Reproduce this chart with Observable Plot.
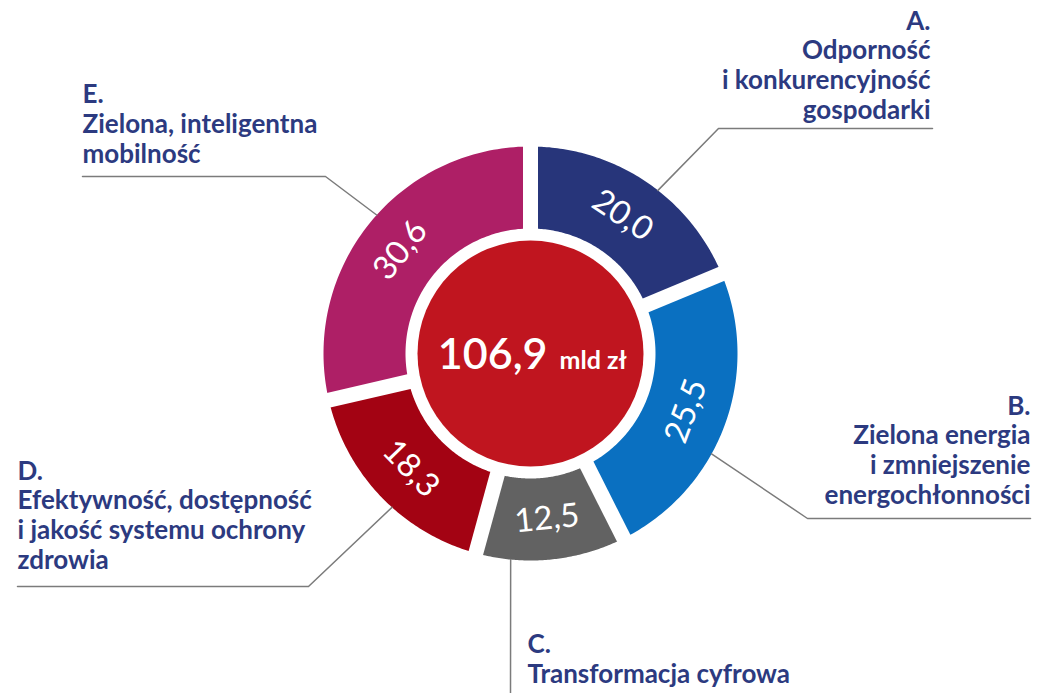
<!DOCTYPE html>
<html>
<head>
<meta charset="utf-8">
<script src="https://cdn.jsdelivr.net/npm/d3@7"></script>
<script src="https://cdn.jsdelivr.net/npm/@observablehq/plot@0.6"></script>
<style>
  body { margin: 0; background: #ffffff; }
  #chart svg { display: block; }
</style>
</head>
<body>
<div id="chart"></div>
<script>
// ---------------- DATA ----------------
const categories = ["A", "B", "C", "D", "E"];
const values = [20.0, 25.5, 12.5, 18.3, 30.6];
const valueLabels = ["20,0", "25,5", "12,5", "18,3", "30,6"];
const titles = [
  "A.\nOdporność\ni konkurencyjność\ngospodarki",
  "B.\nZielona energia\ni zmniejszenie\nenergochłonności",
  "C.\nTransformacja cyfrowa",
  "D.\nEfektywność, dostępność\ni jakość systemu ochrony\nzdrowia",
  "E.\nZielona, inteligentna\nmobilność"
];
const totalLabel = "106,9";
const unitLabel = "mld zł";
const sliceColors = ["#27357A", "#0A70C1", "#626262", "#A30313", "#AE1F66"];

// ---------------- LAYOUT (not data) ----------------
const W = 1038, H = 693;
const CX = 530, CY = 353;             // donut centre in page pixels
const R_OUT = 207, R_IN = 125, R_CENTER = 113, R_LABEL = 166, GAP = 15;
const textColor = "#2C3A80";
const lineColor = "#7B7B7B";
const FONT = "Lato, 'Open Sans', sans-serif";
const leaderLayout = {
  A: {startDeg: 38,    elbow: [188, -225], end: [402, -225], text: [400, -235], anchor: "end"},
  B: {startDeg: 119,   elbow: [277, 165],  end: [500, 165],  text: [500, 150],  anchor: "end"},
  C: {startDeg: 185.5, elbow: null,        end: [-20, 345],  text: [-3, 329],   anchor: "start"},
  D: {startDeg: 222,   elbow: [-222, 233], end: [-513, 233], text: [-513, 215], anchor: "start"},
  E: {startDeg: 312,   elbow: [-205, -177],end: [-448, -177],text: [-448, -191],anchor: "start"}
};

// ---------------- DERIVED ----------------
const arcs = d3.pie().sort(null).value(d => d)(values);
const polar = (r, a) => [r * Math.sin(a), -r * Math.cos(a)];
const slices = categories.map((k, i) => {
  const a0 = arcs[i].startAngle, a1 = arcs[i].endAngle, mid = (a0 + a1) / 2;
  let rot = mid * 180 / Math.PI;
  if (rot > 90 && rot < 270) rot -= 180;
  else if (rot >= 270) rot -= 360;
  const [lx, ly] = polar(R_LABEL, mid);
  return {key: k, a0, a1, mid, rot, lx, ly, label: valueLabels[i], title: titles[i]};
});

const ringPoints = slices.flatMap(s => {
  const n = 90, pts = [];
  for (let j = 0; j <= n; j++) {
    const [x, y] = polar(R_OUT, s.a0 + (s.a1 - s.a0) * j / n);
    pts.push({key: s.key, x, y});
  }
  for (let j = n; j >= 0; j--) {
    const [x, y] = polar(R_IN, s.a0 + (s.a1 - s.a0) * j / n);
    pts.push({key: s.key, x, y});
  }
  return pts;
});

const gapLinks = slices.map(s => {
  const [x1, y1] = polar(R_IN - 8, s.a0);
  const [x2, y2] = polar(R_OUT + 8, s.a0);
  return {x1, y1, x2, y2};
});

const leaderPoints = slices.flatMap(s => {
  const L = leaderLayout[s.key];
  const [sx, sy] = polar(R_OUT, L.startDeg * Math.PI / 180);
  const pts = [{key: s.key, x: sx, y: sy}];
  if (L.elbow) pts.push({key: s.key, x: L.elbow[0], y: L.elbow[1]});
  pts.push({key: s.key, x: L.end[0], y: L.end[1]});
  return pts;
});

const titleRows = slices.map(s => ({
  key: s.key, title: s.title,
  x: leaderLayout[s.key].text[0], y: leaderLayout[s.key].text[1],
  anchor: leaderLayout[s.key].anchor
}));

// ---------------- CHART ----------------
const chart = Plot.plot({
  width: W,
  height: H,
  margin: 0,
  style: {background: "#ffffff", overflow: "visible"},
  x: {domain: [-CX, W - CX], range: [0, W], axis: null},
  y: {domain: [-CY, H - CY], range: [0, H], axis: null},
  color: {domain: categories, range: sliceColors},
  marks: [
    Plot.line(ringPoints, {x: "x", y: "y", z: "key", fill: "key", stroke: "none", curve: "linear-closed"}),
    Plot.link(gapLinks, {x1: "x1", y1: "y1", x2: "x2", y2: "y2", stroke: "#ffffff", strokeWidth: GAP, strokeLinecap: "butt"}),
    Plot.dot([{x: 0, y: 0}], {x: "x", y: "y", r: R_CENTER, fill: "#C0151F", stroke: "none"}),
    Plot.line(leaderPoints, {x: "x", y: "y", z: "key", stroke: lineColor, strokeWidth: 1.5, curve: "linear"}),
    Plot.text(slices, {x: "lx", y: "ly", text: "label", rotate: "rot", fill: "#ffffff",
      fontSize: 33, fontFamily: FONT, fontWeight: 400}),
    Plot.text([totalLabel], {x: () => 17, y: () => 15, text: d => d, textAnchor: "end", lineAnchor: "bottom",
      fill: "#ffffff", fontSize: 43, fontFamily: FONT, fontWeight: 600}),
    Plot.text([unitLabel], {x: () => 29, y: () => 15, text: d => d, textAnchor: "start", lineAnchor: "bottom",
      fill: "#ffffff", fontSize: 25, fontFamily: FONT, fontWeight: 700}),
    Plot.text(titleRows.filter(d => d.anchor === "end"), {x: "x", y: "y", text: "title", textAnchor: "end",
      lineAnchor: "bottom", lineHeight: 1.14, fill: textColor, fontSize: 26, fontFamily: FONT, fontWeight: 700}),
    Plot.text(titleRows.filter(d => d.anchor === "start"), {x: "x", y: "y", text: "title", textAnchor: "start",
      lineAnchor: "bottom", lineHeight: 1.14, fill: textColor, fontSize: 26, fontFamily: FONT, fontWeight: 700})
  ]
});
document.getElementById("chart").appendChild(chart);
</script>
</body>
</html>
